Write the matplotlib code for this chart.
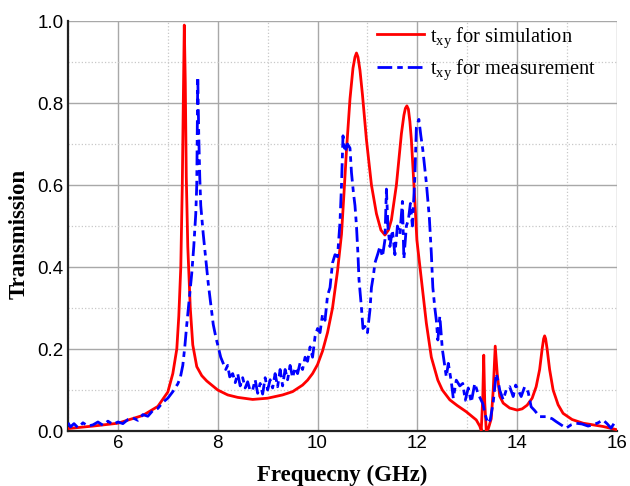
import numpy as np
import matplotlib
matplotlib.use('Agg')
import matplotlib.pyplot as plt
from matplotlib.ticker import MultipleLocator

# simulated t_xy
sim_f = [5.0, 5.5, 6.0, 6.5, 6.8, 7.0, 7.1, 7.18, 7.22, 7.26, 7.29, 7.31, 7.33, 7.35, 7.37, 7.40,
         7.45, 7.50, 7.58, 7.68, 7.78, 7.9, 8.0, 8.2, 8.4, 8.7, 9.0, 9.3, 9.5, 9.7, 9.8, 9.9, 10.0,
         10.1, 10.2, 10.3, 10.4, 10.48, 10.53, 10.58, 10.65, 10.71, 10.75, 10.78, 10.81, 10.85,
         10.9, 10.98, 11.08, 11.18, 11.27, 11.35, 11.42, 11.48, 11.58, 11.68, 11.73, 11.76, 11.79,
         11.82, 11.85, 11.88, 11.95, 11.99, 12.08, 12.18, 12.28, 12.41, 12.5, 12.65, 12.8, 12.98,
         13.18, 13.25, 13.28, 13.31, 13.33, 13.35, 13.38, 13.42, 13.48, 13.52, 13.56, 13.60, 13.65,
         13.72, 13.85, 14.0, 14.1, 14.2, 14.3, 14.38, 14.45, 14.5, 14.53, 14.55, 14.57, 14.6, 14.65,
         14.72, 14.82, 14.92, 15.1, 15.32, 15.72, 16.0]
sim_t = [0.006, 0.012, 0.019, 0.038, 0.06, 0.095, 0.14, 0.2, 0.28, 0.40, 0.6, 0.8, 0.99, 0.85, 0.62,
         0.45, 0.30, 0.21, 0.157, 0.135, 0.122, 0.11, 0.1, 0.088, 0.082, 0.077, 0.08, 0.088, 0.096,
         0.112, 0.124, 0.14, 0.162, 0.195, 0.24, 0.30, 0.39, 0.48, 0.58, 0.685, 0.81, 0.885, 0.912,
         0.922, 0.912, 0.88, 0.82, 0.71, 0.60, 0.53, 0.49, 0.478, 0.49, 0.515, 0.60, 0.725, 0.77,
         0.787, 0.793, 0.785, 0.755, 0.71, 0.56, 0.466, 0.37, 0.263, 0.18, 0.124, 0.1, 0.076, 0.062,
         0.047, 0.027, 0.012, 0.002, 0.08, 0.185, 0.07, 0.002, 0.005, 0.03, 0.1, 0.207, 0.14, 0.085,
         0.068, 0.056, 0.051, 0.054, 0.063, 0.08, 0.108, 0.15, 0.2, 0.225, 0.232, 0.225, 0.2, 0.15,
         0.10, 0.064, 0.043, 0.028, 0.019, 0.011, 0.003]

# measured t_xy
meas_f = [5.0, 5.05, 5.12, 5.2, 5.3, 5.4, 5.5, 5.6, 5.7, 5.8, 5.9, 6.0, 6.1, 6.2, 6.3, 6.4, 6.5,
          6.6, 6.7, 6.8, 6.9, 7.0, 7.1, 7.2, 7.25, 7.3, 7.34, 7.38, 7.42, 7.48, 7.52, 7.56, 7.58,
          7.6, 7.62, 7.64, 7.66, 7.71, 7.76, 7.81, 7.86, 7.91, 7.96, 8.01, 8.06, 8.11, 8.16, 8.2,
          8.24, 8.3, 8.35, 8.4, 8.45, 8.5, 8.55, 8.6, 8.65, 8.7, 8.75, 8.8, 8.85, 8.9, 8.95, 9.0,
          9.05, 9.1, 9.15, 9.2, 9.25, 9.3, 9.35, 9.4, 9.45, 9.5, 9.55, 9.6, 9.65, 9.7, 9.75, 9.8,
          9.85, 9.9, 9.95, 10.0, 10.05, 10.1, 10.15, 10.2, 10.25, 10.3, 10.35, 10.4, 10.45, 10.48,
          10.51, 10.55, 10.6, 10.65, 10.68, 10.72, 10.75, 10.78, 10.81, 10.83, 10.88, 10.91, 10.95,
          11.0, 11.05, 11.08, 11.12, 11.15, 11.21, 11.25, 11.3, 11.35, 11.38, 11.41, 11.45, 11.5,
          11.55, 11.6, 11.65, 11.7, 11.73, 11.78, 11.82, 11.86, 11.9, 11.95, 11.98, 12.03, 12.07,
          12.11, 12.18, 12.24, 12.28, 12.31, 12.35, 12.38, 12.41, 12.45, 12.5, 12.55, 12.58, 12.62,
          12.68, 12.72, 12.78, 12.85, 12.91, 12.96, 13.02, 13.08, 13.15, 13.22, 13.31, 13.36, 13.41,
          13.46, 13.52, 13.58, 13.62, 13.65, 13.72, 13.78, 13.85, 13.92, 13.97, 14.02, 14.08, 14.15,
          14.22, 14.28, 14.35, 14.45, 14.58, 14.7, 14.78, 14.88, 14.98, 15.08, 15.18, 15.3, 15.42,
          15.52, 15.62, 15.72, 15.8, 15.88, 15.95, 16.0]
meas_t = [0.02, 0.01, 0.018, 0.008, 0.02, 0.012, 0.015, 0.022, 0.014, 0.024, 0.016, 0.022, 0.018,
          0.028, 0.032, 0.026, 0.04, 0.036, 0.05, 0.055, 0.07, 0.08, 0.096, 0.115, 0.13, 0.16,
          0.205, 0.26, 0.31, 0.385, 0.45, 0.53, 0.6, 0.864, 0.72, 0.62, 0.55, 0.48, 0.42, 0.36,
          0.31, 0.26, 0.23, 0.205, 0.18, 0.165, 0.15, 0.16, 0.132, 0.14, 0.118, 0.14, 0.11, 0.13,
          0.105, 0.12, 0.098, 0.1, 0.125, 0.092, 0.116, 0.09, 0.13, 0.1, 0.125, 0.105, 0.14, 0.108,
          0.15, 0.11, 0.15, 0.125, 0.16, 0.13, 0.155, 0.14, 0.166, 0.15, 0.18, 0.17, 0.205, 0.18,
          0.23, 0.25, 0.24, 0.285, 0.27, 0.33, 0.35, 0.41, 0.43, 0.425, 0.51, 0.6, 0.72, 0.68, 0.7,
          0.69, 0.63, 0.58, 0.55, 0.5, 0.43, 0.37, 0.30, 0.25, 0.255, 0.24, 0.295, 0.35, 0.38, 0.41,
          0.433, 0.45, 0.425, 0.466, 0.59, 0.50, 0.45, 0.49, 0.43, 0.5, 0.48, 0.56, 0.42, 0.5, 0.515,
          0.555, 0.5, 0.62, 0.74, 0.76, 0.72, 0.685, 0.605, 0.52, 0.433, 0.35, 0.30, 0.27, 0.222,
          0.28, 0.2, 0.157, 0.132, 0.165, 0.12, 0.08, 0.124, 0.11, 0.116, 0.075, 0.105, 0.07, 0.116,
          0.09, 0.067, 0.04, 0.019, 0.027, 0.07, 0.14, 0.12, 0.1, 0.076, 0.1, 0.108, 0.084, 0.112,
          0.1, 0.084, 0.108, 0.095, 0.059, 0.05, 0.035, 0.035, 0.03, 0.023, 0.015, 0.007, 0.015,
          0.019, 0.017, 0.012, 0.015, 0.02, 0.027, 0.018, 0.007, 0.02, 0.023]

plt.rcParams['mathtext.fontset'] = 'custom'
plt.rcParams['mathtext.rm'] = 'Liberation Serif'

fig = plt.figure(figsize=(6.3, 4.86), dpi=100)
ax = fig.add_axes([68 / 630, 1 - 431 / 486, 549 / 630, 410 / 486])

ax.plot(sim_f, sim_t, color='#ff0000', lw=2.0, label=r'$\mathregular{t_{xy}}$ for simulation', zorder=3)
ax.plot(meas_f, meas_t, color='#0000ff', lw=2.0, linestyle=(0, (5.3, 1.8, 2.0, 1.8)),
        label=r'$\mathregular{t_{xy}}$ for measurement', zorder=4)

ax.set_xlim(5, 16)
ax.set_ylim(0, 1.0)
ax.xaxis.set_minor_locator(MultipleLocator(1))
ax.yaxis.set_minor_locator(MultipleLocator(0.1))
ax.set_xticks([6, 8, 10, 12, 14, 16])
ax.set_yticks([0.0, 0.2, 0.4, 0.6, 0.8, 1.0])
ax.set_yticklabels(['0.0', '0.2', '0.4', '0.6', '0.8', '1.0'])

ax.grid(which='major', color='#a8a8a8', lw=1.0, ls='-')
ax.grid(which='minor', color='#c8c8c8', lw=0.9, ls=':')
ax.set_axisbelow(True)

ax.tick_params(which='both', length=0, labelsize=13.5, pad=3)
for lab in ax.get_xticklabels() + ax.get_yticklabels():
    lab.set_family('Liberation Sans')

for s in ['top', 'right']:
    ax.spines[s].set_visible(False)
for s in ['left', 'bottom']:
    ax.spines[s].set_color('#222222')
    ax.spines[s].set_linewidth(1.6)

ax.set_xlabel('Frequecny (GHz)', family='Liberation Serif', fontweight='bold', fontsize=16.5, labelpad=9)
ax.set_ylabel('Transmission', family='Liberation Serif', fontweight='bold', fontsize=16.5)
ax.yaxis.set_label_coords(-0.069, 0.48)

ax.legend(loc='upper left', bbox_to_anchor=(377 / 630, 1 - 25 / 486), bbox_transform=fig.transFigure,
          frameon=False, prop={'family': 'Liberation Serif', 'size': 14.8},
          handlelength=2.3, handletextpad=0.3, labelspacing=0.4, borderpad=0, borderaxespad=0)

fig.savefig('out.png', dpi=100)
